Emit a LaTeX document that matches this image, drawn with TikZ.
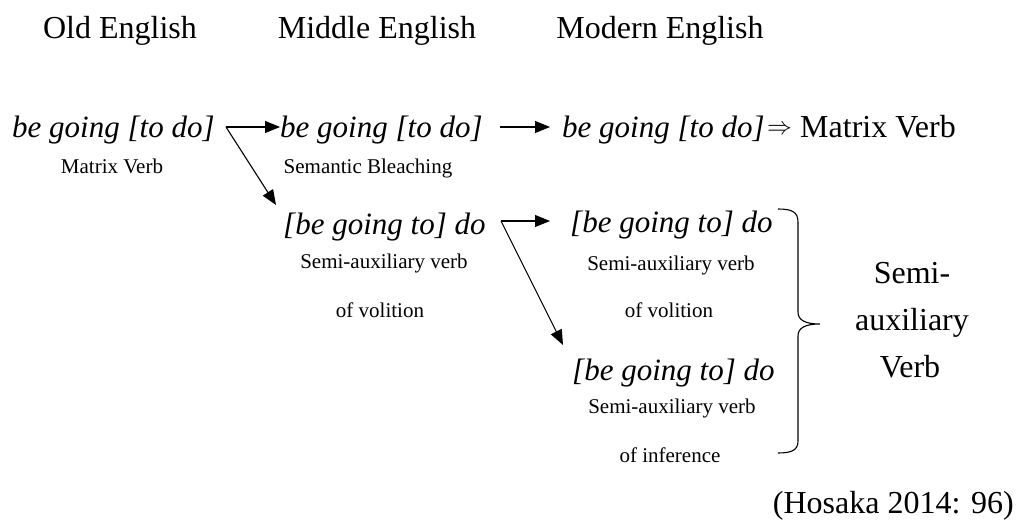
\documentclass[tikz,border=0pt]{standalone}
\usepackage{fontspec}
\setmainfont{Liberation Serif}
\usetikzlibrary{arrows.meta}
\begin{document}
\begin{tikzpicture}[x=1pt,y=-1pt,
  hdr/.style={font=\fontsize{32}{38}\selectfont, inner sep=0pt, anchor=base},
  big/.style={font=\fontsize{31}{37}\selectfont\itshape, inner sep=0pt, anchor=base west},
  small/.style={font=\fontsize{21}{25}\selectfont, inner sep=0pt, anchor=base},
  arr/.style={-{Triangle[length=15pt,width=12pt]}, line width=1.1pt},
  brace/.style={line width=1.1pt}]
\useasboundingbox (0,0) rectangle (1021,527);
% headers
\node[hdr] (h1) at (120,39) {Old English};
\node[hdr] (h2) at (377,39) {Middle English};
\node[hdr] (h3) at (660,39) {Modern English};
% row 1
\node[big] (a1) at (12,137) {be going [to do]};
\node[big] (a2) at (280,137) {be going [to do]};
\node[big] (a3) at (562,137) {be going [to do]};
\node[inner sep=0pt, anchor=base west, font=\fontsize{27}{32}\selectfont] (imp) at (767,135) {$\Rightarrow$};
\node[hdr, anchor=base west] (a3m) at (800,137) {Matrix Verb};
\node[small] (l1) at (112,173) {Matrix Verb};
\node[small] (l2) at (368,173) {Semantic Bleaching};
% row 2
\node[big] (b1) at (283,234) {[be going to] do};
\node[big] (b2) at (570,232) {[be going to] do};
\node[small] (m1) at (384,268) {Semi-auxiliary verb};
\node[small] (n1) at (380,317) {of volition};
\node[small] (m2) at (671,270) {Semi-auxiliary verb};
\node[small] (n2) at (669,317) {of volition};
% row 3
\node[big] (c2) at (572,380) {[be going to] do};
\node[small] (m3) at (672,413) {Semi-auxiliary verb};
\node[small] (n3) at (670,462) {of inference};
% brace label
\node[hdr] (s1) at (912,283) {Semi-};
\node[hdr] (s2) at (912,330) {auxiliary};
\node[hdr] (s3) at (910,377) {Verb};
% citation
\node[hdr, anchor=base east] (cit) at (1014,513) {(Hosaka 2014: 96)};
% connectors
\coordinate (j1) at (226,127);
\coordinate (j1b) at (500,127);
\coordinate (j2) at (501,221);
\coordinate (t1) at (276,205);
\coordinate (t2) at (563,345);
\draw[arr] (j1) -- (j1 -| a2.west);
\draw[arr] (j1) -- (t1);
\draw[arr] (j1b) -- ([xshift=-12pt]j1b -| a3.west);
\draw[arr] (j2) -- ([xshift=-20pt]j2 -| b2.west);
\draw[arr] (j2) -- (t2);
% brace
\draw[brace] (778,209) .. controls (792,209) and (798,212) .. (798,222) -- (798,312)
  .. controls (798,320) and (805,324) .. (820,324)
  .. controls (805,324) and (798,328) .. (798,336) -- (798,441)
  .. controls (798,450) and (792,453) .. (778,453);
\end{tikzpicture}
\end{document}
